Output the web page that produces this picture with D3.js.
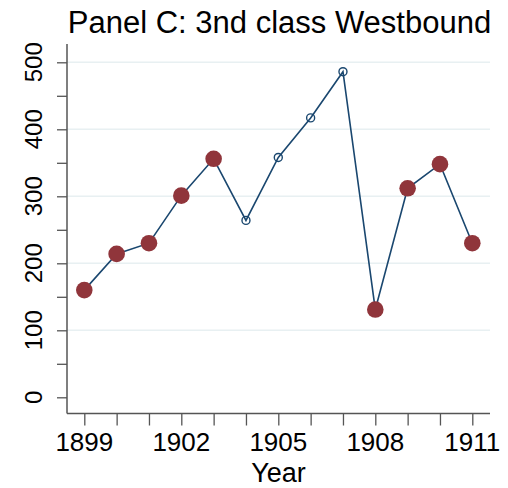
<!DOCTYPE html>
<html><head><meta charset="utf-8">
<script src="https://cdn.jsdelivr.net/npm/d3@7"></script>
<style>html,body{margin:0;padding:0;background:#fff}svg{display:block}text{font-family:"Liberation Sans",Arial,Helvetica,sans-serif;fill:#000}</style>
</head><body>
<script>
const years = [1899,1900,1901,1902,1903,1904,1905,1906,1907,1908,1909,1910,1911];
const values = [160,214,230,301,356,264,358,417,486,131,312,348,230];
const hollowYears = [1904,1905,1906,1907];
const yTicks = [0,100,200,300,400,500];
const yMinorTicks = [50,150,250,350,450];
const xTickLabels = [1899,1902,1905,1908,1911];
const title = "Panel C: 3nd class Westbound";
const xTitle = "Year";

const W = 508, H = 488;
const svg = d3.select("body").append("svg").attr("width", W).attr("height", H);
const x = d3.scaleLinear().domain([1899,1911]).range([84.3,472.3]);
const y = d3.scaleLinear().domain([0,500]).range([397.3,62.3]);
const axL = 67, axR = 490, axT = 44, axB = 413.5;

// gridlines
svg.append("g").selectAll("line").data(yTicks.filter(d=>d>0)).join("line")
  .attr("x1", axL).attr("x2", axR).attr("y1", d=>y(d)).attr("y2", d=>y(d))
  .attr("stroke", "#e8f0f2").attr("stroke-width", 1.6);

// y axis
const yAxis = d3.axisLeft(y).tickValues(yTicks.concat(yMinorTicks)).tickSize(10).tickFormat("");
const gy = svg.append("g").attr("transform", `translate(${axL},0)`).call(yAxis);
gy.select(".domain").remove();
gy.selectAll(".tick line").attr("stroke", "#555").attr("stroke-width", 1.3);
svg.append("line").attr("x1", axL).attr("x2", axL).attr("y1", axT).attr("y2", axB)
  .attr("stroke", "#555").attr("stroke-width", 1.5);
svg.append("g").selectAll("text").data(yTicks).join("text")
  .attr("transform", d=>`translate(42,${y(d)}) rotate(-90)`)
  .attr("text-anchor", "middle").style("font-size", "24px").text(d=>d);

// x axis
const xAxis = d3.axisBottom(x).tickValues(years).tickSize(12).tickFormat("");
const gx = svg.append("g").attr("transform", `translate(0,${axB})`).call(xAxis);
gx.select(".domain").remove();
gx.selectAll(".tick line").attr("stroke", "#555").attr("stroke-width", 1.3);
svg.append("line").attr("x1", axL).attr("x2", axR).attr("y1", axB).attr("y2", axB)
  .attr("stroke", "#555").attr("stroke-width", 1.5);
svg.append("g").selectAll("text").data(xTickLabels).join("text")
  .attr("x", d=>x(d)).attr("y", 451).attr("text-anchor", "middle")
  .style("font-size", "26px").text(d=>d);

svg.append("text").attr("x", 278.5).attr("y", 481.5).attr("text-anchor", "middle")
  .style("font-size", "27px").text(xTitle);
svg.append("text").attr("x", 279.5).attr("y", 33).attr("text-anchor", "middle")
  .style("font-size", "31px").text(title);

// line
const data = years.map((yr,i)=>({yr, v: values[i], hollow: hollowYears.includes(yr)}));
svg.append("path").datum(data)
  .attr("d", d3.line().x(d=>x(d.yr)).y(d=>y(d.v)))
  .attr("fill", "none").attr("stroke", "#1a476f").attr("stroke-width", 1.6);

svg.append("g").selectAll("circle").data(data.filter(d=>!d.hollow)).join("circle")
  .attr("cx", d=>x(d.yr)).attr("cy", d=>y(d.v)).attr("r", 8.3)
  .attr("fill", "#90353b");
svg.append("g").selectAll("circle").data(data.filter(d=>d.hollow)).join("circle")
  .attr("cx", d=>x(d.yr)).attr("cy", d=>y(d.v)).attr("r", 4)
  .attr("fill", "none").attr("stroke", "#1a476f").attr("stroke-width", 1.4);
</script>
</body></html>
